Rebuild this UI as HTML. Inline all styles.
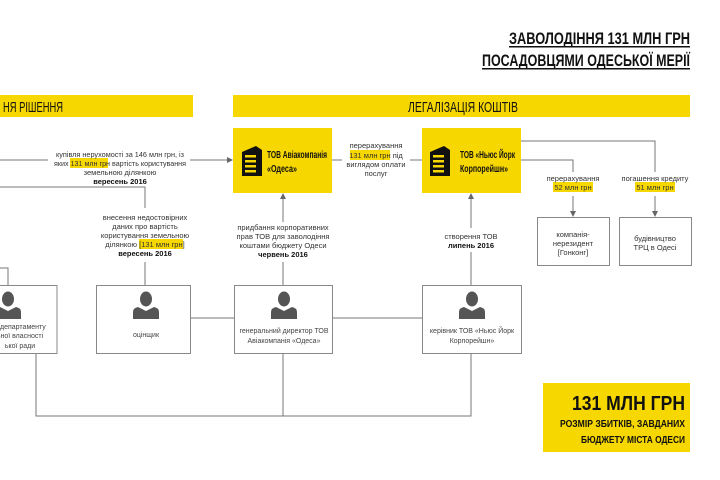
<!DOCTYPE html>
<html><head><meta charset="utf-8"><style>
html,body{margin:0;padding:0;background:#fff;width:720px;height:480px;overflow:hidden}
text{font-family:"Liberation Sans Narrow","Liberation Sans",sans-serif}
</style></head><body>
<svg width="720" height="480" viewBox="0 0 720 480" xmlns="http://www.w3.org/2000/svg">
<defs>
<g id="bld">
<path d="M0 6 L14 0 L20 4 L20 30 L0 30 Z" fill="#111"/>
<rect x="3" y="9" width="11" height="2.5" fill="#f7d700"/><rect x="3" y="14" width="11" height="2.5" fill="#f7d700"/><rect x="3" y="19" width="11" height="2.5" fill="#f7d700"/><rect x="3" y="24" width="11" height="2.5" fill="#f7d700"/>
</g>
<g id="per" fill="#555">
<ellipse cx="0" cy="0" rx="6" ry="7.5"/>
<path d="M-13 20 L-13 13 Q-13 9 -8 8 L0 12 L8 8 Q13 9 13 13 L13 20 Z"/>
</g>
<marker id="ar" markerWidth="6" markerHeight="6" refX="5" refY="3" orient="auto"><path d="M0 0 L6 3 L0 6 Z" fill="#666"/></marker>
</defs>
<g font-weight="bold" fill="#111" font-size="17">
<text x="690" y="44" text-anchor="end" textLength="181" lengthAdjust="spacingAndGlyphs">ЗАВОЛОДІННЯ 131 МЛН ГРН</text>
<text x="690" y="66" text-anchor="end" textLength="208" lengthAdjust="spacingAndGlyphs">ПОСАДОВЦЯМИ ОДЕСЬКОЇ МЕРІЇ</text>
</g>
<rect x="509" y="46" width="181" height="1.5" fill="#111"/>
<rect x="482" y="68" width="208" height="1.5" fill="#111"/>
<rect x="0" y="95" width="193" height="22" fill="#f7d700"/>
<rect x="233" y="95" width="457" height="22" fill="#f7d700"/>
<text x="3" y="112" font-size="15" fill="#111" textLength="60" lengthAdjust="spacingAndGlyphs">НЯ РІШЕННЯ</text>
<text x="408" y="112" font-size="15" fill="#111" textLength="110" lengthAdjust="spacingAndGlyphs">ЛЕГАЛІЗАЦІЯ КОШТІВ</text>
<g stroke="#777" stroke-width="1" fill="none">
<line x1="0" y1="160" x2="48" y2="160"/>
<line x1="190" y1="160" x2="232" y2="160" marker-end="url(#ar)"/>
<line x1="332" y1="160" x2="342" y2="160"/>
<line x1="410" y1="160" x2="422" y2="160"/>
<polyline points="0,187 145,187 145,208"/>
<line x1="145" y1="262" x2="145" y2="286"/>
<line x1="283" y1="222" x2="283" y2="194" marker-end="url(#ar)"/>
<line x1="283" y1="262" x2="283" y2="286"/>
<line x1="471" y1="228" x2="471" y2="194" marker-end="url(#ar)"/>
<line x1="471" y1="252" x2="471" y2="286"/>
<polyline points="521,141 655,141 655,172"/>
<line x1="655" y1="196" x2="655" y2="216" marker-end="url(#ar)"/>
<polyline points="521,160 573,160 573,172"/>
<line x1="573" y1="196" x2="573" y2="216" marker-end="url(#ar)"/>
<polyline points="0,268 8,268 8,286"/>
<line x1="190" y1="318" x2="234" y2="318"/>
<line x1="332" y1="318" x2="422" y2="318"/>
<polyline points="36,353 36,416 471,416 471,353"/>
<line x1="283" y1="353" x2="283" y2="416"/>
</g>
<rect x="233" y="128" width="99" height="65" fill="#f7d700"/>
<use href="#bld" x="242" y="146"/>
<g font-size="10" fill="#111" font-weight="bold">
<text x="267" y="158" textLength="60" lengthAdjust="spacingAndGlyphs">ТОВ Авіакомпанія</text>
<text x="267" y="172" textLength="30" lengthAdjust="spacingAndGlyphs">«Одеса»</text>
</g>
<rect x="422" y="128" width="99" height="65" fill="#f7d700"/>
<use href="#bld" x="430" y="146"/>
<g font-size="10" fill="#111" font-weight="bold">
<text x="460" y="158" textLength="55" lengthAdjust="spacingAndGlyphs">ТОВ «Ньюс Йорк</text>
<text x="460" y="172" textLength="48" lengthAdjust="spacingAndGlyphs">Корпорейшн»</text>
</g>
<g fill="#f7d700">
<rect x="70" y="158" width="38" height="10"/>
<rect x="139" y="239" width="44" height="10"/>
<rect x="350" y="150" width="40" height="10"/>
<rect x="553" y="182" width="40" height="10"/>
<rect x="635" y="182" width="40" height="10"/>
</g>
<g font-size="7.5" fill="#333" text-anchor="middle">
<text x="120" y="157" textLength="128" lengthAdjust="spacingAndGlyphs">купівля нерухомості за 146 млн грн, із</text>
<text x="120" y="166" textLength="132" lengthAdjust="spacingAndGlyphs">яких 131 млн грн вартість користування</text>
<text x="120" y="175">земельною ділянкою</text>
<text x="120" y="184" font-weight="bold" fill="#111">вересень 2016</text>
<text x="145" y="220">внесення недостовірних</text>
<text x="145" y="229">даних про вартість</text>
<text x="145" y="238">користування земельною</text>
<text x="145" y="247">ділянкою [131 млн грн]</text>
<text x="145" y="256" font-weight="bold" fill="#111">вересень 2016</text>
<text x="283" y="230">придбання корпоративних</text>
<text x="283" y="239">прав ТОВ для заволодіння</text>
<text x="283" y="248">коштами бюджету Одеси</text>
<text x="283" y="257" font-weight="bold" fill="#111">червень 2016</text>
<text x="376" y="148">перерахування</text>
<text x="376" y="158">131 млн грн під</text>
<text x="376" y="167">виглядом оплати</text>
<text x="376" y="176">послуг</text>
<text x="471" y="239">створення ТОВ</text>
<text x="471" y="248" font-weight="bold" fill="#111">липень 2016</text>
<text x="573" y="181">перерахування</text>
<text x="573" y="190">52 млн грн</text>
<text x="655" y="181">погашення кредиту</text>
<text x="655" y="190">51 млн грн</text>
</g>
<g fill="#fff" stroke="#888" stroke-width="1">
<rect x="537.5" y="217.5" width="72" height="48"/>
<rect x="619.5" y="217.5" width="72" height="48"/>
<rect x="-1" y="285.5" width="58" height="68"/>
<rect x="96.5" y="285.5" width="94" height="68"/>
<rect x="234.5" y="285.5" width="98" height="68"/>
<rect x="422.5" y="285.5" width="99" height="68"/>
</g>
<g font-size="7.5" fill="#333" text-anchor="middle">
<text x="573" y="237">компанія-</text><text x="573" y="246">нерезидент</text><text x="573" y="255">[Гонконг]</text>
<text x="655" y="241">будівництво</text><text x="655" y="250">ТРЦ в Одесі</text>
</g>
<use href="#per" x="8" y="299"/>
<use href="#per" x="146" y="299"/>
<use href="#per" x="284" y="299"/>
<use href="#per" x="472" y="299"/>
<g font-size="7" fill="#444" text-anchor="middle">
<text x="20" y="329">о департаменту</text><text x="20" y="338">ьної власності</text><text x="20" y="348">ької ради</text>
<text x="146" y="337">оцінщик</text>
<text x="284" y="333">генеральний директор ТОВ</text><text x="284" y="343">Авіакомпанія «Одеса»</text>
<text x="472" y="333">керівник ТОВ «Ньюс Йорк</text><text x="472" y="343">Корпорейшн»</text>
</g>
<rect x="543" y="383" width="147" height="69" fill="#f7d700"/>
<g font-weight="bold" fill="#111" text-anchor="end">
<text x="685" y="410" font-size="20" textLength="113" lengthAdjust="spacingAndGlyphs">131 МЛН ГРН</text>
<text x="685" y="427" font-size="10" textLength="125" lengthAdjust="spacingAndGlyphs">РОЗМІР ЗБИТКІВ, ЗАВДАНИХ</text>
<text x="685" y="443" font-size="10" textLength="104" lengthAdjust="spacingAndGlyphs">БЮДЖЕТУ МІСТА ОДЕСИ</text>
</g>
</svg>
</body></html>
